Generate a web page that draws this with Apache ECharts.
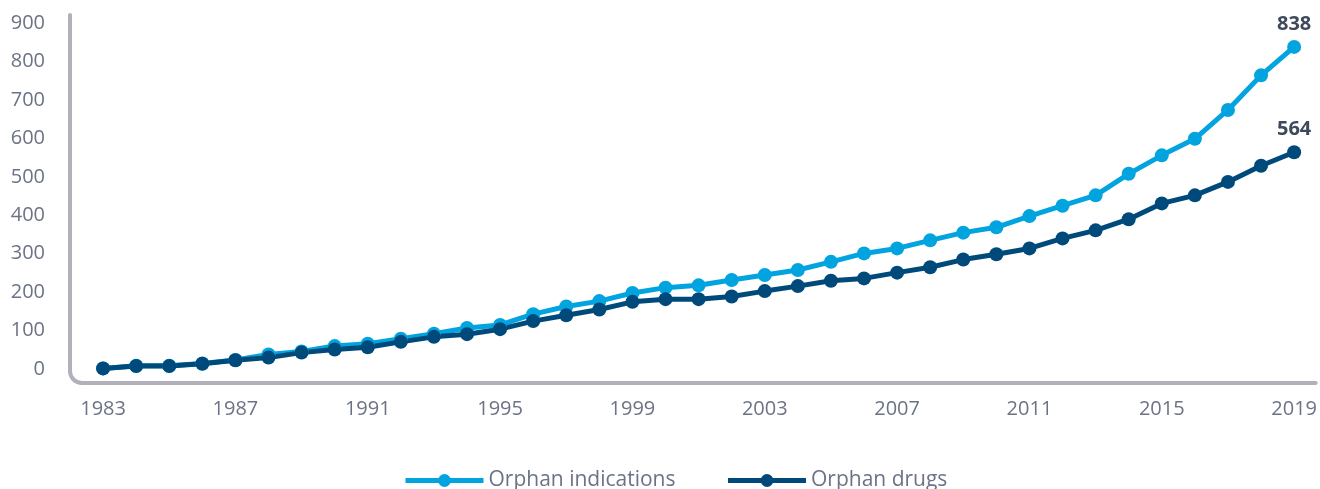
<!DOCTYPE html>
<html>
<head>
<meta charset="utf-8">
<script src="https://cdn.jsdelivr.net/npm/echarts@6/dist/echarts.min.js"></script>
<style>
  html, body { margin: 0; padding: 0; background: #fff; }
  #chart { width: 1320px; height: 489px; }
</style>
</head>
<body>
<div id="chart"></div>
<script>
var years = [];
for (var yr = 1983; yr <= 2019; yr++) years.push(yr);

var indications = [2, 9, 9, 15, 24, 38, 46, 60, 66, 79, 92, 107, 115, 143, 163, 177, 198, 212, 218, 232,
  245, 258, 279, 301, 314, 335, 355, 369, 398, 425, 452, 508, 556, 599, 674, 764, 838];
var drugs = [2, 8, 8, 14, 23, 30, 43, 51, 57, 71, 84, 91, 104, 125, 140, 155, 175, 182, 182, 189,
  203, 216, 230, 236, 251, 265, 285, 299, 314, 340, 361, 390, 431, 452, 487, 529, 564];

var xTicks = [1983, 1987, 1991, 1995, 1999, 2003, 2007, 2011, 2015, 2019];
var yTicks = [0, 100, 200, 300, 400, 500, 600, 700, 800, 900];

var lightBlue = "#02a4e0";
var darkBlue = "#004a7b";
var axisGray = "#b2b1bb";
var labelGray = "#6c7386";

var X_MIN = 1982, X_MAX = 2019.65, Y_MIN = -36, Y_MAX = 921;

function pairs(vals) {
    return vals.map(function (v, i) { return [years[i], v]; });
}

function lastLabel(vals) {
    return {
        show: true,
        position: "top",
        distance: 6,
        fontFamily: "Open Sans",
        fontSize: 20,
        fontWeight: "bold",
        color: "#3e4a5b",
        formatter: function (p) {
            return p.dataIndex === vals.length - 1 ? p.value[1] : "";
        }
    };
}

var option = {
    animation: false,
    textStyle: { fontFamily: "Open Sans" },
    grid: { left: 70, right: 2, top: 15, bottom: 106, containLabel: false },
    legend: {
        top: 465,
        left: 398,
        itemWidth: 78,
        itemHeight: 16,
        itemGap: 50,
        lineStyle: { width: 5 },
        textStyle: { fontSize: 21, color: labelGray, fontFamily: "Open Sans" },
        data: ["Orphan indications", "Orphan drugs"]
    },
    xAxis: {
        type: "value",
        min: X_MIN,
        max: X_MAX,
        axisLine: { show: false },
        axisTick: { show: false },
        splitLine: { show: false },
        axisLabel: {
            customValues: xTicks,
            margin: 16,
            fontSize: 20,
            color: labelGray,
            formatter: function (v) { return String(v); }
        }
    },
    yAxis: {
        type: "value",
        min: Y_MIN,
        max: Y_MAX,
        axisLine: { show: false },
        axisTick: { show: false },
        splitLine: { show: false },
        axisLabel: {
            customValues: yTicks,
            margin: 25,
            fontSize: 20,
            color: labelGray
        }
    },
    series: [
        {
            name: "Orphan indications",
            type: "line",
            data: pairs(indications),
            symbol: "circle",
            symbolSize: 14,
            lineStyle: { width: 5, color: lightBlue },
            itemStyle: { color: lightBlue },
            label: lastLabel(indications)
        },
        {
            name: "Orphan drugs",
            type: "line",
            data: pairs(drugs),
            symbol: "circle",
            symbolSize: 14,
            lineStyle: { width: 5, color: darkBlue },
            itemStyle: { color: darkBlue },
            label: lastLabel(drugs)
        }
    ]
};

var myChart = echarts.init(document.getElementById("chart"), null, { renderer: "canvas" });
myChart.setOption(option);

// axis frame with a rounded bottom-left corner, placed from the axis scales
var topLeft = myChart.convertToPixel({ gridIndex: 0 }, [X_MIN, Y_MAX]);
var corner = myChart.convertToPixel({ gridIndex: 0 }, [X_MIN, Y_MIN]);
var rightEnd = myChart.convertToPixel({ gridIndex: 0 }, [X_MAX, Y_MIN]);
var r = 12;
var frameStyle = { stroke: axisGray, lineWidth: 4, lineCap: "round", fill: null };

myChart.setOption({
    graphic: [
        {
            type: "line", z: -1,
            shape: { x1: corner[0], y1: topLeft[1], x2: corner[0], y2: corner[1] - r },
            style: frameStyle
        },
        {
            type: "arc", z: -1,
            shape: { cx: corner[0] + r, cy: corner[1] - r, r: r, startAngle: Math.PI / 2, endAngle: Math.PI, clockwise: true },
            style: frameStyle
        },
        {
            type: "line", z: -1,
            shape: { x1: corner[0] + r, y1: corner[1], x2: rightEnd[0], y2: corner[1] },
            style: frameStyle
        }
    ]
});
</script>
</body>
</html>
